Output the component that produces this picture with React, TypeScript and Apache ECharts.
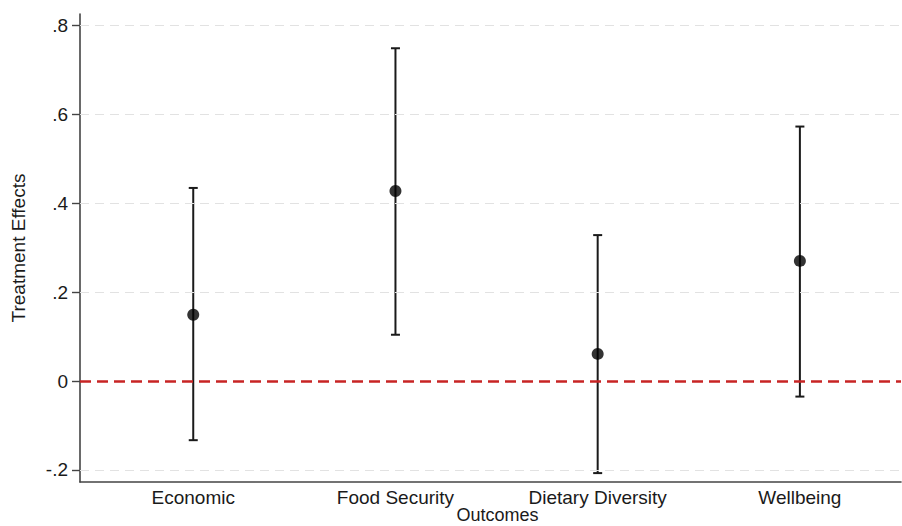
import React, { useEffect, useRef } from "react";
import * as echarts from "echarts";

const categories = ["Economic", "Food Security", "Dietary Diversity", "Wellbeing"];
const categoryX = [1, 2, 3, 4];
const pointEstimates = [0.149, 0.427, 0.061, 0.27];
const ciLower = [-0.133, 0.104, -0.207, -0.035];
const ciUpper = [0.434, 0.748, 0.328, 0.572];
const yTicks = [-0.2, 0, 0.2, 0.4, 0.6, 0.8];
const yTickLabels = ["-.2", "0", ".2", ".4", ".6", ".8"];

const FONT = "Liberation Sans, Arial, Helvetica, sans-serif";
const TEXT = "#1a1a1a";

export default function App() {
  const ref = useRef<HTMLDivElement>(null);
  useEffect(() => {
    if (!ref.current) return;
    const chart = echarts.init(ref.current, null, { renderer: "svg" });
    const errData = categoryX.map((x, i) => [x, ciLower[i], ciUpper[i]]);
    const ptData = categoryX.map((x, i) => [x, pointEstimates[i]]);
    chart.setOption({
      animation: false,
      backgroundColor: "#ffffff",
      grid: { left: 80, right: 1, top: 14, bottom: 44, outerBoundsMode: "none", containLabel: false },
      xAxis: {
        type: "value",
        min: 0.44,
        max: 4.5,
        name: "Outcomes",
        nameLocation: "middle",
        nameGap: 24,
        nameMoveOverlap: false,
        nameTextStyle: {
          fontFamily: FONT,
          fontSize: 18,
          lineHeight: 18,
          color: TEXT,
          padding: [0, 0, 0, 14],
        },
        axisLine: { onZero: false, lineStyle: { color: "#444", width: 1.6 } },
        axisTick: { show: false },
        splitLine: { show: false },
        axisLabel: {
          customValues: categoryX,
          formatter: (v: number) => categories[Math.round(v) - 1] ?? "",
          fontFamily: FONT,
          fontSize: 19,
          color: TEXT,
          margin: 6,
        },
      },
      yAxis: {
        type: "value",
        min: -0.227,
        max: 0.825,
        name: "Treatment Effects",
        nameLocation: "middle",
        nameGap: 52,
        nameTextStyle: { fontFamily: FONT, fontSize: 19, color: TEXT },
        axisLine: { show: true, onZero: false, lineStyle: { color: "#444", width: 1.6 } },
        axisTick: {
          show: true,
          customValues: yTicks,
          length: 8,
          lineStyle: { color: "#444", width: 1.4 },
        },
        splitLine: { show: false },
        axisLabel: {
          customValues: yTicks,
          formatter: (v: number) => {
            const idx = yTicks.findIndex((t) => Math.abs(t - v) < 1e-6);
            return idx >= 0 ? yTickLabels[idx] : "";
          },
          fontFamily: FONT,
          fontSize: 19,
          color: TEXT,
          margin: 12,
        },
      },
      series: [
        {
          type: "scatter",
          data: [],
          silent: true,
          markLine: {
            silent: true,
            symbol: "none",
            label: { show: false },
            lineStyle: { color: "#e2e2e2", width: 1.2, type: [9, 6] },
            data: yTicks.filter((t) => t !== 0).map((t) => ({ yAxis: t })),
          },
        },
        {
          type: "scatter",
          data: [],
          silent: true,
          markLine: {
            silent: true,
            symbol: "none",
            label: { show: false },
            lineStyle: { color: "#c82424", width: 2.6, type: [11, 6] },
            data: [{ yAxis: 0 }],
          },
        },
        {
          type: "custom",
          data: errData,
          silent: true,
          renderItem: (params: any, api: any) => {
            const x = api.value(0);
            const lo = api.coord([x, api.value(1)]);
            const hi = api.coord([x, api.value(2)]);
            const cap = 4.5;
            const style = { stroke: "#1a1a1a", lineWidth: 2 };
            return {
              type: "group",
              children: [
                { type: "line", shape: { x1: lo[0], y1: lo[1], x2: hi[0], y2: hi[1] }, style },
                { type: "line", shape: { x1: lo[0] - cap, y1: lo[1], x2: lo[0] + cap, y2: lo[1] }, style },
                { type: "line", shape: { x1: hi[0] - cap, y1: hi[1], x2: hi[0] + cap, y2: hi[1] }, style },
              ],
            };
          },
          z: 3,
        },
        {
          type: "scatter",
          data: ptData,
          symbol: "circle",
          symbolSize: 12,
          itemStyle: { color: "#000000" },
          silent: true,
          z: 4,
        },
      ],
    });
    return () => chart.dispose();
  }, []);
  return (
    <div
      ref={ref}
      style={{ position: "fixed", left: 0, top: 0, width: 902, height: 526 }}
    />
  );
}
